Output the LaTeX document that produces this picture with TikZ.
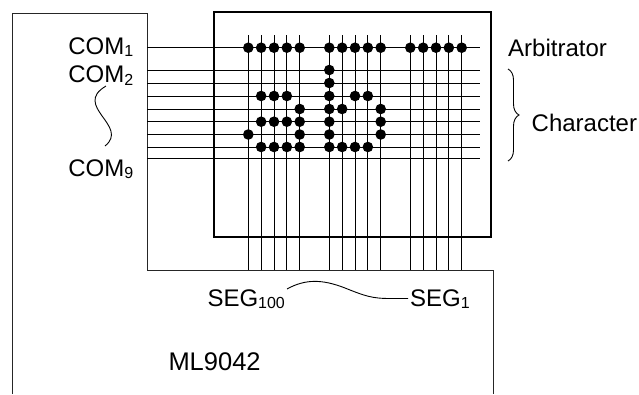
\documentclass[tikz,border=0pt]{standalone}
\usepackage{fontspec}
\setmainfont{Liberation Sans}
\usetikzlibrary{decorations.pathreplacing}
\newcommand\lowsub[1]{\raisebox{-2.4pt}{\fontsize{16}{16}\selectfont #1}}
\begin{document}
\begin{tikzpicture}[x=1pt,y=-1pt,
  wire/.style={line width=1pt, draw=black},
  outline/.style={line width=1pt, draw=black!85},
  frame/.style={line width=2pt, draw=black},
  dot/.style={circle, fill=black, inner sep=0pt, minimum size=10.6pt},
  lbl/.style={font=\fontsize{24}{28}\selectfont, inner sep=0pt},
  wave/.style={line width=0.9pt},
]
\useasboundingbox (0,0) rectangle (639,394);
% chip outline
\draw[outline] (12,394) -- (12,13) -- (147,13) -- (147,270) -- (493,270) -- (493,394);
% rows
\foreach \yy [count=\i from 0] in {47.7,70,83,96,109,121.7,134.5,147,158.5} {
  \coordinate (hl\i) at (147,\yy);
  \coordinate (hr\i) at (480,\yy);
  \draw[wire] (hl\i) -- (hr\i);
}
% columns
\foreach \g in {0,1,2} {
  \foreach \k in {0,...,4} {
    \coordinate (vt\g\k) at ({248.3+81*\g+12.85*\k},35);
    \coordinate (vb\g\k) at ({248.3+81*\g+12.85*\k},270);
    \draw[wire] (vt\g\k) -- (vb\g\k);
  }
}
% display frame
\node[frame, draw, inner sep=0pt, minimum width=277pt, minimum height=225pt, anchor=north west] (lcd) at (213,11) {};
% arbitrator row dots
\foreach \g in {0,1,2} {
  \foreach \k in {0,...,4} {
    \node[dot] (d-\g\k-0) at (vt\g\k |- hl0) {};
  }
}
% character a
\foreach \k/\i in {1/3,2/3,3/3,4/4,1/5,2/5,3/5,4/5,0/6,4/6,1/7,2/7,3/7,4/7} {
  \node[dot] (d-0\k-\i) at (vt0\k |- hl\i) {};
}
% character b
\foreach \k/\i in {0/1,0/2,0/3,2/3,3/3,0/4,1/4,4/4,0/5,4/5,0/6,4/6,0/7,1/7,2/7,3/7} {
  \node[dot] (d-1\k-\i) at (vt1\k |- hl\i) {};
}
% labels
\node[lbl, anchor=base east] (com1) at (133.5,54.3) {COM\lowsub{1}};
\node[lbl, anchor=base east] (com2) at (133.5,82.7) {COM\lowsub{2}};
\node[lbl, anchor=base east] (com9) at (133.5,176) {COM\lowsub{9}};
\node[lbl, anchor=base west] (arb) at (508,56) {Arbitrator};
\node[lbl, anchor=base west] (chr) at (531.5,131.7) {Character};
\node[lbl, anchor=base west] (seg100) at (207.3,306) {SEG\lowsub{100}};
\node[lbl, anchor=base west] (seg1) at (410,306) {SEG\lowsub{1}};
\node[lbl, font=\fontsize{25.5}{30}\selectfont, anchor=base west] (ml) at (168.3,370.7) {ML9042};
% waves
\coordinate (cw1) at (106,86);
\coordinate (cw2) at (105,146);
\draw[wave] (cw1) .. controls (72,106) and (130,126) .. (cw2);
\coordinate (sw1) at (287,289);
\coordinate (sw2) at (408,298.5);
\draw[wave] (sw1) .. controls (305,279) and (322,279) .. (345,288) .. controls (365,296) and (372,298.5) .. (390,298.5) -- (sw2);
% brace
\coordinate (bt) at (508,69);
\coordinate (bb) at (508,161);
\draw[wave, decorate, decoration={brace, amplitude=11pt}] (bt) -- (bb);
\end{tikzpicture}
\end{document}
